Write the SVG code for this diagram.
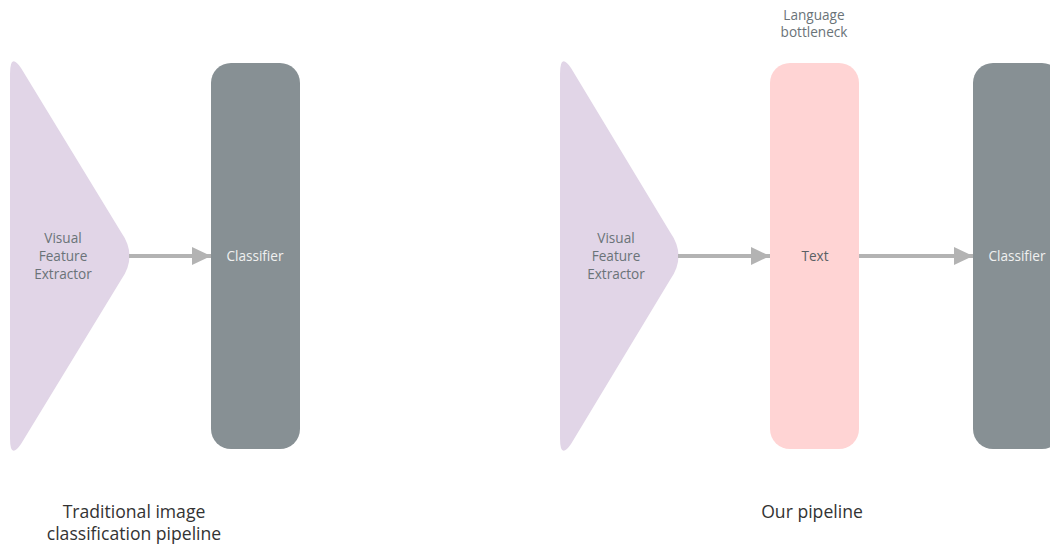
<svg xmlns="http://www.w3.org/2000/svg" width="1050" height="548" viewBox="0 0 1050 548">
<defs>
<style>
.tri{fill:#e1d5e7}
.cls{fill:#879094}
.txt{fill:#ffd4d4}
text{font-family:"Open Sans","Noto Sans",sans-serif;text-anchor:middle;dominant-baseline:central}
.lbl{font-size:13.6px;fill:#6a7378;font-weight:500}
.lblw{font-size:13.6px;fill:#f0f0f0;font-weight:500}
.lbld{font-size:13.6px;fill:#5a6064;font-weight:500}
.cap{font-size:17.6px;fill:#333333;font-weight:500}
.conn{stroke:#b3b3b3;stroke-width:4;fill:none}
</style>
<marker id="ah" markerUnits="userSpaceOnUse" markerWidth="20" markerHeight="20" viewBox="0 0 20 20" refX="19" refY="10" orient="auto">
<path d="M0,1 L19,10 L0,19 Z" fill="#b3b3b3"/>
</marker>
</defs>
<g id="fe1">
<path class="tri" d="M10,74 Q10,52 21,68 L121,232 Q138,256 121,280 L21,444 Q10,460 10,438 Z"/>
<text class="lbl" x="63" y="237">Visual</text>
<text class="lbl" x="63" y="255">Feature</text>
<text class="lbl" x="63" y="273">Extractor</text>
</g>
<g id="cls1">
<rect class="cls" x="211" y="63" width="89" height="386" rx="20"/>
<text class="lblw" x="255" y="255">Classifier</text>
</g>
<g id="fe2">
<path class="tri" d="M560,74 Q560,52 571,68 L670,232 Q687,256 670,280 L571,444 Q560,460 560,438 Z"/>
<text class="lbl" x="616" y="237">Visual</text>
<text class="lbl" x="616" y="255">Feature</text>
<text class="lbl" x="616" y="273">Extractor</text>
</g>
<g id="text">
<rect class="txt" x="770" y="63" width="89" height="386" rx="20"/>
<text class="lbld" x="815" y="255">Text</text>
</g>
<g id="lb">
<text class="lbl" x="814" y="14">Language</text>
<text class="lbl" x="814" y="31">bottleneck</text>
</g>
<g id="cls2">
<rect class="cls" x="973" y="63" width="89" height="386" rx="20"/>
<text class="lblw" x="1017" y="255">Classifier</text>
</g>
<g id="connectors">
<line class="conn" x1="129" y1="256" x2="211" y2="256" marker-end="url(#ah)"/>
<line class="conn" x1="678" y1="256" x2="770" y2="256" marker-end="url(#ah)"/>
<line class="conn" x1="859" y1="256" x2="973" y2="256" marker-end="url(#ah)"/>
</g>
<g id="captions">
<text class="cap" x="134" y="511">Traditional image</text>
<text class="cap" x="134" y="533">classification pipeline</text>
<text class="cap" x="812" y="511">Our pipeline</text>
</g>
</svg>
